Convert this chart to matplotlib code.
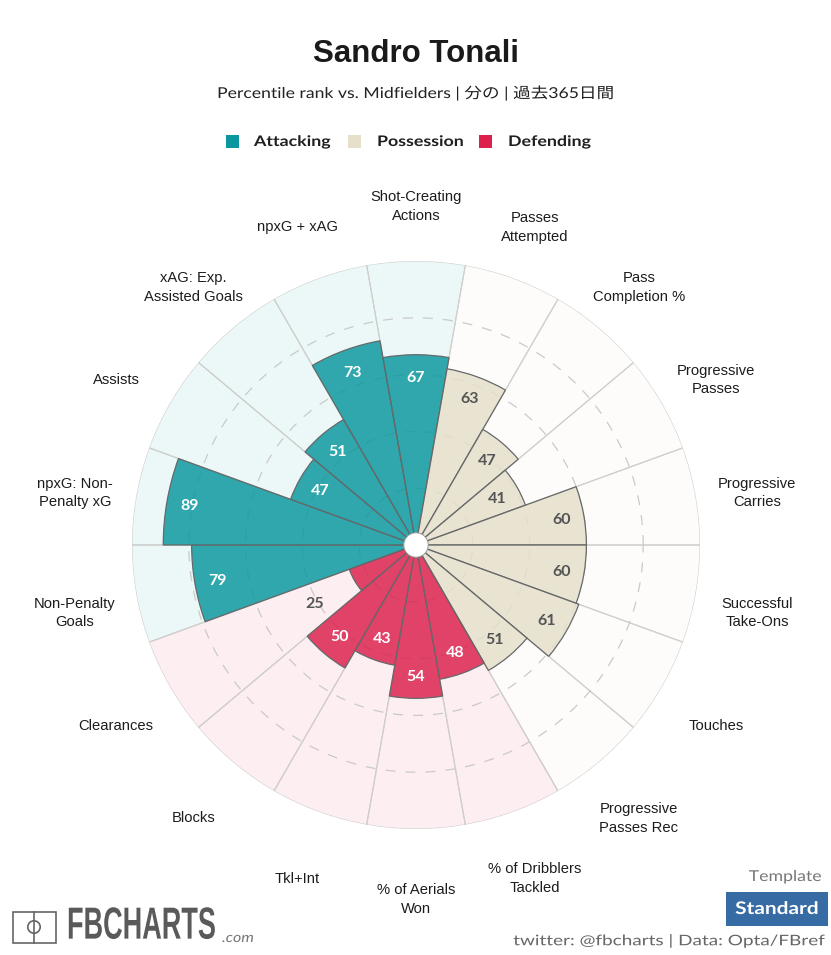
import numpy as np
import matplotlib
matplotlib.use("Agg")
import matplotlib.pyplot as plt
from matplotlib.colors import to_rgba
from matplotlib.patches import Rectangle, Circle
from matplotlib.patheffects import AbstractPathEffect
from matplotlib.transforms import Affine2D

W, H = 831, 955
metrics = ["Non-Penalty\nGoals", "npxG: Non-\nPenalty xG", "Assists", "xAG: Exp.\nAssisted Goals",
           "npxG + xAG", "Shot-Creating\nActions", "Passes\nAttempted", "Pass\nCompletion %",
           "Progressive\nPasses", "Progressive\nCarries", "Successful\nTake-Ons", "Touches",
           "Progressive\nPasses Rec", "% of Dribblers\nTackled", "% of Aerials\nWon", "Tkl+Int",
           "Blocks", "Clearances"]
values = [79, 89, 47, 51, 73, 67, 63, 47, 41, 60, 60, 61, 51, 48, 54, 43, 50, 25]
groups = ["Attacking"] * 6 + ["Possession"] * 7 + ["Defending"] * 5
group_names = ["Attacking", "Possession", "Defending"]
group_colors = {"Attacking": "#0a979e", "Possession": "#e6dfca", "Defending": "#dc1f4c"}
grid_levels = [20, 40, 60, 80]

FONT = ["Lato", "Noto Sans CJK JP", "DejaVu Sans"]
SANS = "Liberation Sans"


class Stretch(AbstractPathEffect):
    """Scale drawn text about an anchor given in image pixels."""
    def __init__(self, sx, sy, x, y):
        super().__init__()
        self.sx, self.sy, self.x, self.y = sx, sy, x, H - y

    def draw_path(self, renderer, gc, tpath, affine, rgbFace=None):
        t = affine + Affine2D().translate(-self.x, -self.y).scale(self.sx, self.sy).translate(self.x, self.y)
        renderer.draw_path(gc, tpath, t, rgbFace)


fig = plt.figure(figsize=(W / 100, H / 100), dpi=100, facecolor="white")
cx, cy, R = 416, 545, 284
ax = fig.add_axes([(cx - R) / W, (H - cy - R) / H, 2 * R / W, 2 * R / H], projection="polar")
ax.set_ylim(0, 100)
ax.axis("off")
ax.patch.set_visible(False)

theta = np.deg2rad(190 - 20 * np.arange(len(values)))
width = np.deg2rad(20)
colors = [group_colors[g] for g in groups]

ax.bar(theta, [100] * len(values), width=width, color=[to_rgba(c, 0.075) for c in colors],
       edgecolor="#cfcfcc", linewidth=0.8, zorder=1)
ring = np.linspace(0, 2 * np.pi, 361)
for lev in grid_levels:
    ax.plot(ring, [lev] * len(ring), color="#cacaca", lw=0.9, ls=(0, (8, 8)), zorder=2)
ax.bar(theta, values, width=width, color=[to_rgba(c, 0.83) for c in colors],
       edgecolor="#66696a", linewidth=0.9, zorder=3)
ax.fill(ring, [4.3] * len(ring), facecolor="white", edgecolor="#9a9a9a", linewidth=0.7, zorder=5)

for t, v, g in zip(theta, values, groups):
    outside = v < 30
    r = v + 16 if outside else v - 8
    col = "#555555" if outside or g == "Possession" else "white"
    ax.annotate(str(v), xy=(t, r), xycoords="data", xytext=(0, -1), textcoords="offset pixels",
                ha="center", va="center", color=col, fontsize=11.5,
                fontweight="bold", family=FONT, zorder=6)

for t, m in zip(theta, metrics):
    ax.annotate(m, xy=(t, 122), xycoords="data", xytext=(0, -8), textcoords="offset pixels",
                ha="center", va="center", fontsize=10.6, family=SANS, color="#1c1c1c",
                linespacing=1.4, annotation_clip=False, zorder=6)


def px(x, y):
    return x / W, 1 - y / H


fig.text(*px(416, 54), "Sandro Tonali", ha="center", va="center", fontsize=22.5,
         fontweight="bold", family=SANS, color="#1a1a1a")
fig.text(*px(416, 93), "Percentile rank vs. Midfielders | 分の | 過去365日間", ha="center", va="center",
         fontsize=10.8, family=FONT, color="#222222",
         path_effects=[Stretch(1.175, 1.0, 416, 93)])

legend_boxes = [226, 348, 479]
legend_text = [254, 377, 508]
for name, bx, tx in zip(group_names, legend_boxes, legend_text):
    fig.add_artist(Rectangle(px(bx, 148), 13 / W, 13 / H, transform=fig.transFigure,
                             color=group_colors[name], lw=0))
    fig.text(*px(tx, 142), name, ha="left", va="center", fontsize=10.5, fontweight="bold",
             family=FONT, color="#1f1f1f", path_effects=[Stretch(1.22, 1.0, tx, 142)])

# footer
fig.text(*px(822, 877), "Template", ha="right", va="center", fontsize=10.8, family=FONT, color="#777777",
         path_effects=[Stretch(1.18, 1.0, 822, 877)])
fig.add_artist(Rectangle(px(726, 926), 102 / W, 34 / H, transform=fig.transFigure, color="#366ba3", lw=0))
fig.text(*px(777, 909), "Standard", ha="center", va="center", fontsize=12.5, fontweight="bold",
         family=FONT, color="white", path_effects=[Stretch(1.2, 1.0, 777, 909)])
fig.text(*px(827, 941), "twitter: @fbcharts | Data: Opta/FBref", ha="right", va="center", fontsize=10.5,
         family=FONT, color="#666666", path_effects=[Stretch(1.3, 1.0, 827, 941)])

# logo
pix = fig.add_axes([0, 0, 1, 1], facecolor="none")
pix.set_xlim(0, W)
pix.set_ylim(H, 0)
pix.axis("off")
pix.add_patch(Rectangle((12.5, 911.5), 43, 31, fc="none", ec="#666666", lw=1.2))
pix.plot([34, 34], [911.5, 942.5], color="#666666", lw=1.2)
pix.add_patch(Circle((34, 927), 6.2, fc="none", ec="#666666", lw=1.2))
fig.text(*px(67, 927), "FBCHARTS", ha="left", va="center", fontsize=19.5, fontweight="bold",
         family=["Liberation Sans Narrow", "Liberation Sans"], color="#5a5a5a",
         path_effects=[Stretch(1.0, 1.66, 67, 927)])
fig.text(*px(222, 938), ".com", ha="left", va="center", fontsize=10, style="italic",
         family=FONT, color="#777777", path_effects=[Stretch(1.15, 1.0, 222, 938)])

fig.savefig("out.png", dpi=100)
